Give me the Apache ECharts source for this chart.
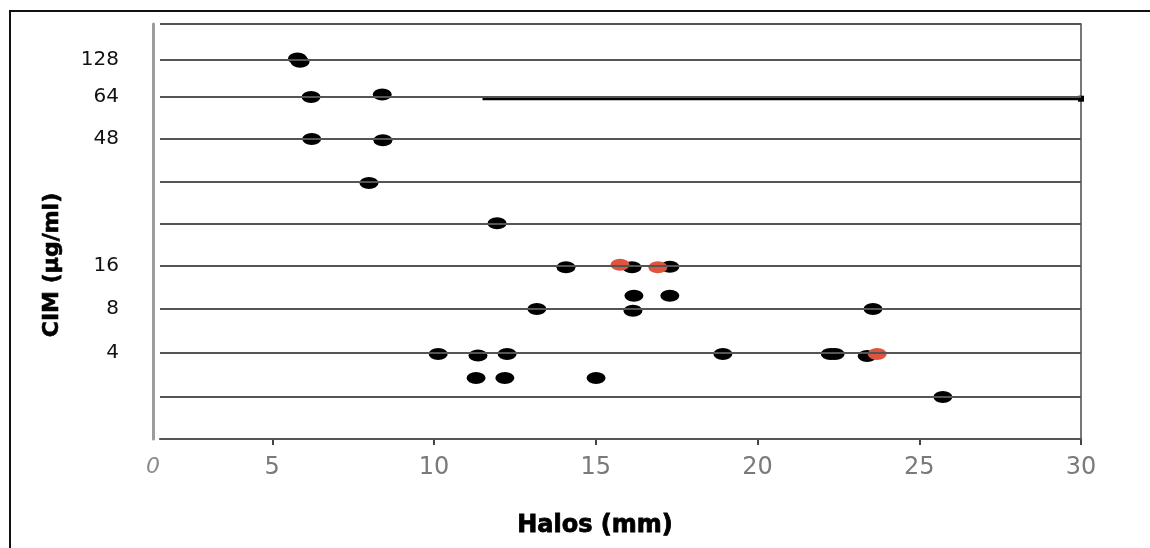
<!DOCTYPE html>
<html>
<head>
<meta charset="utf-8">
<script src="https://cdn.jsdelivr.net/npm/echarts@6/dist/echarts.min.js"></script>
<style>
  html, body { margin: 0; padding: 0; background: #fff; overflow: hidden; }
  #chart { width: 1150px; height: 548px; }
</style>
</head>
<body>
<div id="chart"></div>
<script>
// ---- data ----
// horizontal grid rows (bottom to top) in axis units; row labels
const gridLevels = [0, 1.01, 2.07, 3.13, 4.17, 5.18, 6.19, 7.23, 8.24, 9.13, 10];
const levelLabels = ['', '', '4', '8', '16', '', '', '48', '64', '128', ''];
const xTicks = [5, 10, 15, 20, 25, 30];
const xMin = 1.53, xMax = 30;

// black isolates [halo mm, row level]
const blackPoints = [
  [5.78, 9.17], [5.86, 9.09],
  [6.2, 8.24], [8.4, 8.3],
  [6.22, 7.23], [8.42, 7.2],
  [7.99, 6.17],
  [11.95, 5.2],
  [14.08, 4.14], [16.12, 4.14], [17.29, 4.15],
  [16.18, 3.45], [17.29, 3.45],
  [13.18, 3.13], [16.15, 3.09], [23.57, 3.13],
  [10.13, 2.05], [11.36, 2.01], [12.26, 2.05], [18.93, 2.05], [22.25, 2.05], [22.4, 2.05], [23.39, 2.0],
  [11.3, 1.47], [12.19, 1.47], [15.01, 1.47],
  [25.73, 1.01]
];
// red isolates
const redPoints = [
  [15.75, 4.2], [16.92, 4.14], [23.7, 2.05]
];
// horizontal black segment on the 64 row
const segment = [[11.5, 8.2], [30, 8.2]];

const chart = echarts.init(document.getElementById('chart'));
const labelMap = {};
gridLevels.forEach((v, i) => { labelMap[v] = levelLabels[i]; });
const labelValues = gridLevels.filter((v, i) => levelLabels[i] !== '');

chart.setOption({
  animation: false,
  backgroundColor: '#ffffff',
  grid: { left: 160, right: 69, top: 24, bottom: 109, containLabel: false },
  xAxis: {
    type: 'value', min: xMin, max: xMax,
    axisLine: { show: true, lineStyle: { color: '#444', width: 2 } },
    axisTick: { show: true, customValues: xTicks, length: 6, lineStyle: { color: '#444', width: 2 } },
    axisLabel: {
      customValues: [xMin].concat(xTicks),
      margin: 17,
      color: '#7a7a7a',
      fontFamily: 'DejaVu Sans',
      fontSize: 24,
      formatter: v => (v < 2 ? '{z|0}' : String(v)),
      rich: { z: { fontStyle: 'italic', fontSize: 22, color: '#8a8a8a', padding: [0, 14, 0, 0], fontFamily: 'DejaVu Sans' } }
    },
    splitLine: { show: false }
  },
  yAxis: [{
    type: 'value', min: 0, max: 10, offset: 7,
    axisLine: { show: true, lineStyle: { color: '#9c9c9c', width: 3 } },
    axisTick: { show: false },
    splitLine: { show: false },
    axisLabel: {
      customValues: labelValues,
      margin: 34,
      color: '#111',
      fontFamily: 'DejaVu Sans',
      fontSize: 20,
      formatter: v => labelMap[v] || ''
    }
  }, {
    type: 'value', min: 0, max: 10, position: 'right',
    axisLine: { show: true, lineStyle: { color: '#777', width: 2 } },
    axisTick: { show: false },
    axisLabel: { show: false },
    splitLine: { show: false }
  }],
  graphic: [
    {
      type: 'line', silent: true,
      shape: { x1: 10, y1: 10, x2: 10, y2: 548 },
      style: { stroke: '#111', lineWidth: 2 }
    },
    {
      type: 'line', silent: true,
      shape: { x1: 9, y1: 11, x2: 1150, y2: 11 },
      style: { stroke: '#111', lineWidth: 2 }
    },
    {
      type: 'text', silent: true,
      x: 595, y: 526,
      style: { text: 'Halos (mm)', font: '900 24px "DejaVu Sans"', fill: '#000', textAlign: 'center', textVerticalAlign: 'middle', stroke: '#000', lineWidth: 0.8 }
    },
    {
      type: 'text', silent: true,
      x: 52, y: 265, rotation: Math.PI / 2,
      style: { text: 'CIM (µg/ml)', font: 'bold 22px "DejaVu Sans"', fill: '#000', textAlign: 'center', textVerticalAlign: 'middle', stroke: '#000', lineWidth: 0.6 }
    }
  ],
  series: [
    {
      type: 'scatter', silent: true, data: [],
      markLine: {
        silent: true, symbol: 'none', animation: false,
        label: { show: false },
        lineStyle: { color: '#555', width: 2, type: 'solid' },
        data: gridLevels.map(v => ({ yAxis: v }))
      }
    },
    {
      type: 'line', data: segment, silent: true,
      lineStyle: { color: '#000', width: 3 },
      symbol: 'rect',
      symbolSize: (val, p) => (p.dataIndex === segment.length - 1 ? 6 : 0),
      itemStyle: { color: '#000' }
    },
    {
      type: 'scatter', data: blackPoints, silent: true,
      symbol: 'circle', symbolSize: [19, 12],
      itemStyle: { color: '#000', opacity: 1 }
    },
    {
      type: 'scatter', data: redPoints, silent: true,
      symbol: 'circle', symbolSize: [19, 12],
      itemStyle: { color: '#e0533f', opacity: 1 }
    }
  ]
});
</script>
</body>
</html>
